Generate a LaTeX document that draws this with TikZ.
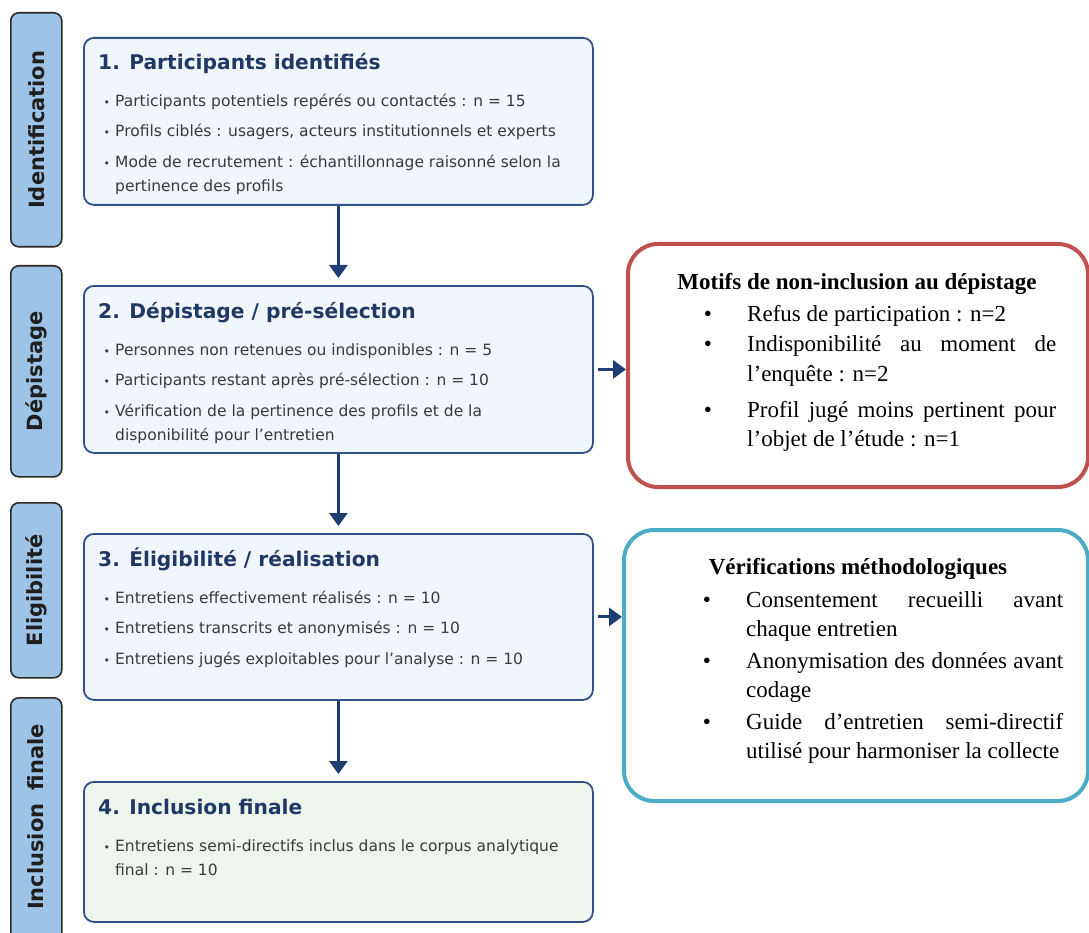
\documentclass[tikz,border=0pt]{standalone}
\usepackage{fontspec}
\setmainfont{DejaVu Sans}
\newfontfamily\timesf{Liberation Serif}
\usetikzlibrary{arrows.meta}
\definecolor{bordc}{HTML}{30518A}
\definecolor{fillb}{HTML}{F1F5FC}
\definecolor{fillg}{HTML}{EDF5EC}
\definecolor{titc}{HTML}{1F3864}
\definecolor{bodyc}{HTML}{3A3A3A}
\definecolor{arrc}{HTML}{1F3C73}
\definecolor{tabf}{HTML}{9DC3E6}
\definecolor{tabd}{HTML}{2A2A2A}
\definecolor{redc}{HTML}{C0504D}
\definecolor{bluec}{HTML}{4BACC6}
\newcommand\lbul{\llap{{\fontsize{11}{11}\selectfont •}\hspace{5pt}}}
\begin{document}
\begin{tikzpicture}[x=1pt,y=-1pt,
  tabbox/.style={draw=tabd, line width=1.6pt, fill=tabf, rounded corners=8pt, minimum width=51pt, anchor=north west, inner sep=0},
  tablab/.style={rotate=90, font=\fontsize{21}{21}\selectfont\bfseries, text=black!88, inner sep=0},
  mainbox/.style={draw=bordc, line width=1.8pt, fill=fillb, rounded corners=10pt, minimum width=509pt, anchor=north west, inner sep=0},
  ttl/.style={anchor=base west, font=\fontsize{20.2}{24}\selectfont\bfseries, text=titc, inner sep=0},
  itm/.style={anchor=base west, font=\fontsize{15.5}{24}\selectfont, text=bodyc, inner sep=0},
  flow/.style={draw=arrc, line width=3pt, -{Triangle[length=13pt,width=18pt]}},
  sidebox/.style={line width=4pt, fill=white, rounded corners=30pt, anchor=north west, inner sep=0},
  stt/.style={anchor=base, font=\timesf\fontsize{23}{28}\selectfont\bfseries, inner sep=0},
  sit/.style={anchor=base west, font=\timesf\fontsize{23}{28}\selectfont, inner sep=0},
  sbul/.style={anchor=base, font=\timesf\fontsize{23}{28}\selectfont, inner sep=0},
]
\useasboundingbox (0,0) rectangle (1089,933);

% side tabs
\node[tabbox, minimum height=234pt] (t1) at (10,12) {};
\node[tabbox, minimum height=211pt] (t2) at (10,265) {};
\node[tabbox, minimum height=175pt] (t3) at (10,502) {};
\node[tabbox, minimum height=250pt] (t4) at (10,697) {};
\node[tablab] (t1l) at (t1.center) {Identification};
\node[tablab] (t2l) at (t2.center) {Dépistage};
\node[tablab] (t3l) at (t3.center) {Eligibilité};
\node[tablab] (t4l) at (35.5,817) {Inclusion\hspace{6pt} finale};

% main boxes
\node[mainbox, minimum height=167pt] (b1) at (83,37) {};
\node[mainbox, minimum height=167pt] (b2) at (83,285) {};
\node[mainbox, minimum height=166pt] (b3) at (83,533) {};
\node[mainbox, minimum height=140pt, fill=fillg] (b4) at (83,781) {};

% box 1
\node[ttl] (b1t) at (98,70) {1. Participants identifiés};
\node[itm] (b1i1) at (115,107) {\lbul Participants potentiels repérés ou contactés : n = 15};
\node[itm] (b1i2) at (115,137) {\lbul Profils ciblés : usagers, acteurs institutionnels et experts};
\node[itm] (b1i3) at (115,168) {\lbul Mode de recrutement : échantillonnage raisonné selon la};
\node[itm] (b1i3b) at (115,192) {pertinence des profils};

% box 2
\node[ttl] (b2t) at (98,318) {2. Dépistage / pré-sélection};
\node[itm] (b2i1) at (115,355) {\lbul Personnes non retenues ou indisponibles : n = 5};
\node[itm] (b2i2) at (115,385) {\lbul Participants restant après pré-sélection : n = 10};
\node[itm] (b2i3) at (115,416) {\lbul Vérification de la pertinence des profils et de la};
\node[itm] (b2i3b) at (115,440) {disponibilité pour l’entretien};

% box 3
\node[ttl] (b3t) at (98,566) {3. Éligibilité / réalisation};
\node[itm] (b3i1) at (115,603) {\lbul Entretiens effectivement réalisés : n = 10};
\node[itm] (b3i2) at (115,633) {\lbul Entretiens transcrits et anonymisés : n = 10};
\node[itm] (b3i3) at (115,664) {\lbul Entretiens jugés exploitables pour l’analyse : n = 10};

% box 4
\node[ttl] (b4t) at (98,814) {4. Inclusion finale};
\node[itm] (b4i1) at (115,851) {\lbul Entretiens semi-directifs inclus dans le corpus analytique};
\node[itm] (b4i1b) at (115,875) {final : n = 10};

% side boxes
\node[sidebox, draw=redc, minimum width=460pt, minimum height=243pt] (red) at (626,242) {};
\node[sidebox, draw=bluec, minimum width=464pt, minimum height=271pt] (blue) at (622,528) {};

% red box text
\node[stt] (rt) at (857,290) {Motifs de non-inclusion au dépistage};
\node[sbul] (rb1) at (708,321) {•};
\node[sbul] (rb2) at (708,351) {•};
\node[sbul] (rb3) at (708,417) {•};
\node[sit] (r1) at (747,321) {Refus de participation : n=2};
\node[sit] (r2) at (747,351) {\makebox[309pt][s]{Indisponibilité au moment de}};
\node[sit] (r2b) at (747,381) {l’enquête : n=2};
\node[sit] (r3) at (747,417) {\makebox[309pt][s]{Profil jugé moins pertinent pour}};
\node[sit] (r3b) at (747,446) {l’objet de l’étude : n=1};

% blue box text
\node[stt] (bt) at (858,574) {Vérifications méthodologiques};
\node[sbul] (bb1) at (707,607) {•};
\node[sbul] (bb2) at (707,668) {•};
\node[sbul] (bb3) at (707,729) {•};
\node[sit] (u1) at (746,607) {\makebox[317pt][s]{Consentement recueilli avant}};
\node[sit] (u1b) at (746,636) {chaque entretien};
\node[sit] (u2) at (746,668) {\makebox[317pt][s]{Anonymisation des données avant}};
\node[sit] (u2b) at (746,697) {codage};
\node[sit] (u3) at (746,729) {\makebox[317pt][s]{Guide d’entretien semi-directif}};
\node[sit] (u3b) at (746,758) {utilisé pour harmoniser la collecte};

% connectors
\draw[flow, shorten >=7pt] (b1.south) -- (b2.north);
\draw[flow, shorten >=7pt] (b2.south) -- (b3.north);
\draw[flow, shorten >=7pt] (b3.south) -- (b4.north);
\draw[flow, shorten <=4pt] (b2.east) -- (b2.east -| red.west);
\draw[flow, shorten <=4pt] (b3.east) -- (b3.east -| blue.west);
\end{tikzpicture}
\end{document}
